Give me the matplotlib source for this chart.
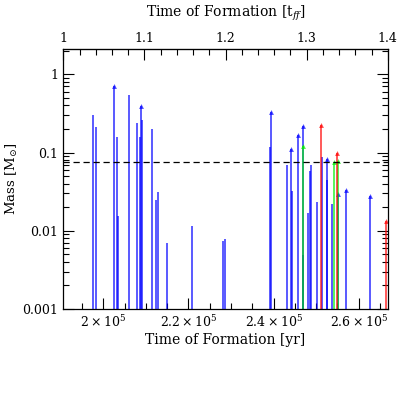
import matplotlib
matplotlib.use("Agg")
import matplotlib.pyplot as plt
import numpy as np
from matplotlib.ticker import MultipleLocator, LogLocator, NullFormatter

plt.rcParams['font.family'] = ['DejaVu Serif']
plt.rcParams['mathtext.fontset'] = 'dejavuserif'

# ---- data ----
tff_yr = 1.906e5

blue_t = [1.975e5, 1.982e5, 2.0327e5, 2.0353e5, 2.0611e5, 2.0797e5, 2.0858e5, 2.0910e5,
          2.1145e5, 2.1246e5, 2.1281e5, 2.1504e5, 2.2085e5, 2.2818e5, 2.2865e5, 2.3925e5,
          2.4312e5, 2.4442e5, 2.4700e5, 2.4818e5, 2.4846e5, 2.4881e5, 2.5029e5, 2.5130e5,
          2.5257e5, 2.5363e5]
blue_m = [0.303, 0.211, 0.16, 0.0155, 0.537, 0.236, 0.16, 0.259,
          0.202, 0.0244, 0.0313, 0.0069, 0.0115, 0.0075, 0.0079, 0.119,
          0.0693, 0.0323, 0.0049, 0.0168, 0.0582, 0.0688, 0.0233, 0.0871,
          0.0446, 0.0218]

blue_arrow_t = [2.0259e5, 2.0879e5, 2.3932e5, 2.4418e5, 2.4568e5, 2.4686e5, 2.5248e5,
                2.5520e5, 2.5711e5, 2.6256e5]
blue_arrow_m = [0.70, 0.395, 0.326, 0.110, 0.166, 0.219, 0.083, 0.0296, 0.0332, 0.0275]

green_arrow_t = [2.4698e5, 2.5422e5, 2.5505e5]
green_arrow_m = [0.1215, 0.0759, 0.078]

red_arrow_t = [2.5121e5, 2.5497e5, 2.6644e5]
red_arrow_m = [0.225, 0.0974, 0.0132]

bd_limit = 0.075
ymin, ymax = 0.001, 2.1
xticks_yr = [2.0e5, 2.2e5, 2.4e5, 2.6e5]
xtick_labels = [r'$2\times10^5$', r'$2.2\times10^5$', r'$2.4\times10^5$', r'$2.6\times10^5$']
top_ticks = [1.0, 1.1, 1.2, 1.3, 1.4]
top_labels = ['1', '1.1', '1.2', '1.3', '1.4']
yticks = [0.001, 0.01, 0.1, 1]
ytick_labels = ['0.001', '0.01', '0.1', '1']

# ---- figure ----
fig = plt.figure(figsize=(4.09, 4.09), dpi=100)
ax = fig.add_axes([0.1548, 0.2445, 0.7932, 0.6355])

BLUE = '#0000ff'
GREEN = '#00ee00'
RED = '#ff0000'
ALPHA = 0.7
LW = 1.3

ax.vlines(blue_t, ymin, blue_m, colors=BLUE, lw=LW, alpha=ALPHA)
ax.vlines(blue_arrow_t, ymin, blue_arrow_m, colors=BLUE, lw=LW, alpha=ALPHA)
ax.plot(blue_arrow_t, blue_arrow_m, ls='none', marker='^', ms=3.5, color=BLUE, alpha=ALPHA, mew=0)
ax.vlines(green_arrow_t, ymin, green_arrow_m, colors=GREEN, lw=LW, alpha=ALPHA)
ax.plot(green_arrow_t, green_arrow_m, ls='none', marker='^', ms=3.5, color=GREEN, alpha=ALPHA, mew=0)
ax.vlines(red_arrow_t, ymin, red_arrow_m, colors=RED, lw=LW, alpha=ALPHA)
ax.plot(red_arrow_t, red_arrow_m, ls='none', marker='^', ms=3.5, color=RED, alpha=ALPHA, mew=0)

ax.axhline(bd_limit, color='black', lw=0.9, ls=(0, (5, 3)))

ax.set_yscale('log')
ax.set_ylim(ymin, ymax)
ax.set_xlim(tff_yr * 1.0, tff_yr * 1.4)

ax.set_xticks(xticks_yr)
ax.set_xticklabels(xtick_labels)
ax.xaxis.set_minor_locator(MultipleLocator(5000))
ax.set_yticks(yticks)
ax.set_yticklabels(ytick_labels)
ax.yaxis.set_minor_locator(LogLocator(base=10, subs=np.arange(2, 10)))
ax.yaxis.set_minor_formatter(NullFormatter())

ax.tick_params(which='both', direction='in', top=False, right=True, labelsize=9, width=0.8)
ax.tick_params(which='major', length=8)
ax.tick_params(which='minor', length=4)
ax.tick_params(axis='x', pad=4)

for s in ax.spines.values():
    s.set_linewidth(0.9)

sec = ax.secondary_xaxis('top', functions=(lambda x: x / tff_yr, lambda x: x * tff_yr))
sec.set_xticks(top_ticks)
sec.set_xticklabels(top_labels)
sec.xaxis.set_minor_locator(MultipleLocator(0.02))
sec.tick_params(which='both', direction='in', labelsize=9, width=0.8)
sec.tick_params(which='major', length=8, pad=3)
sec.tick_params(which='minor', length=4)
sec.set_xlabel(r'Time of Formation [t$_{ff}$]', fontsize=10, labelpad=11)

ax.set_xlabel('Time of Formation [yr]', fontsize=10, labelpad=2)
ax.set_ylabel(r'Mass [M$_{\odot}$]', fontsize=9.5, labelpad=2)

fig.savefig('out.png', dpi=100)
